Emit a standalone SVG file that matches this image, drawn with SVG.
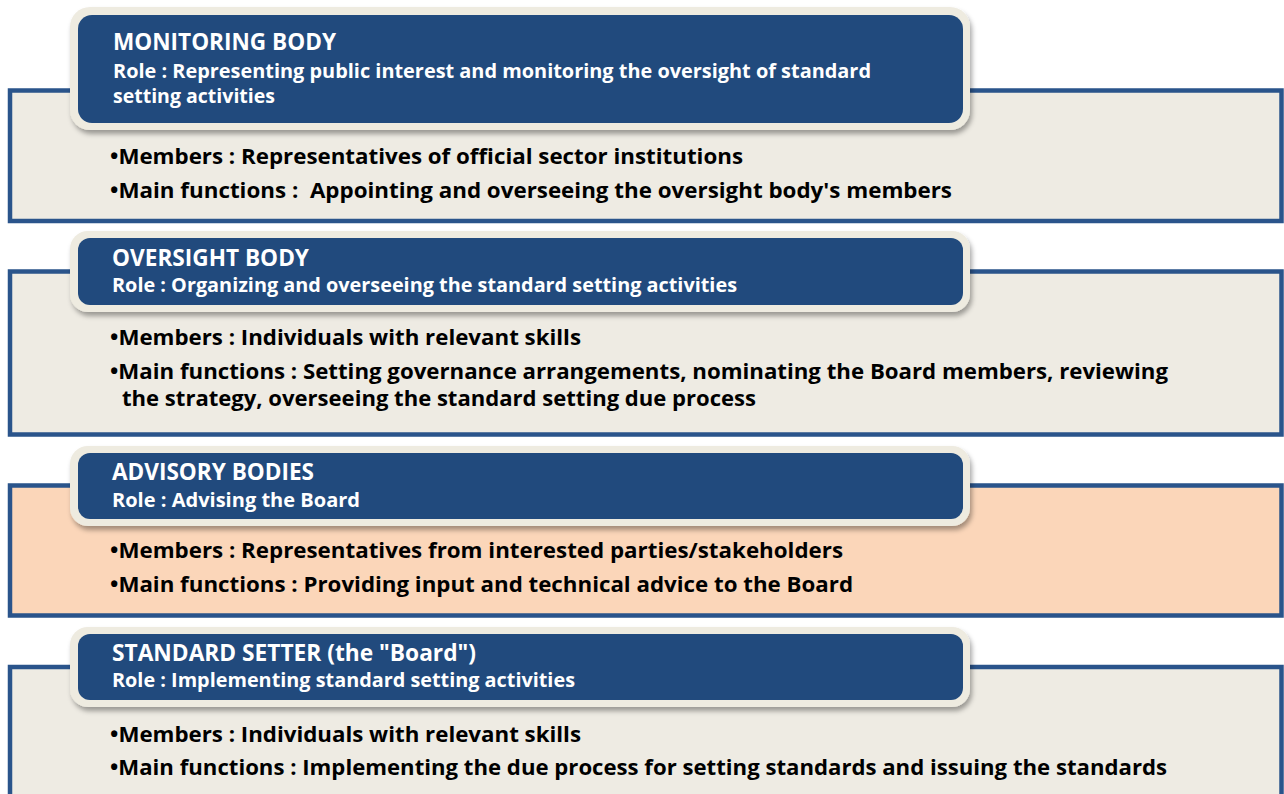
<svg xmlns="http://www.w3.org/2000/svg" width="1284" height="794" viewBox="0 0 1284 794">
<defs>
<filter id="sh" x="-5%" y="-20%" width="110%" height="150%">
<feDropShadow dx="2" dy="4" stdDeviation="2.5" flood-color="#000" flood-opacity="0.35"/>
</filter>
</defs>
<style>
.panel{stroke:#2A548B;stroke-width:4.5;fill:#EEEBE3}
.peach{fill:#FBD6B9}
.frame{fill:#EEEBE0;filter:url(#sh)}
.hdr{fill:#214A7D}
.t{font-family:"Open Sans","Liberation Sans",sans-serif;font-weight:bold;fill:#fff}
.title{font-size:23px}
.role{font-size:20px}
.b{font-family:"Open Sans","Liberation Sans",sans-serif;font-weight:bold;font-size:22px;fill:#000}
</style>
<rect width="1284" height="794" fill="#fff"/>

<g id="monitoring-body">
<rect class="panel" x="10" y="90.5" width="1271.5" height="130.5"/>
<rect class="frame" x="70" y="7" width="900" height="123" rx="20"/>
<rect class="hdr" x="78" y="15" width="885" height="108" rx="14"/>
<text class="t title" x="113" y="50" textLength="223" lengthAdjust="spacingAndGlyphs">MONITORING BODY</text>
<text class="t role" x="113" y="78" textLength="758" lengthAdjust="spacingAndGlyphs">Role : Representing public interest and monitoring the oversight of standard</text>
<text class="t role" x="113" y="103" textLength="162" lengthAdjust="spacingAndGlyphs">setting activities</text>
<text class="b" x="110" y="164" textLength="633" lengthAdjust="spacingAndGlyphs">•Members : Representatives of official sector institutions</text>
<text class="b" x="110" y="197.5" textLength="842" lengthAdjust="spacingAndGlyphs" xml:space="preserve">•Main functions :  Appointing and overseeing the oversight body's members</text>
</g>

<g id="oversight-body">
<rect class="panel" x="10" y="271.5" width="1271.5" height="163"/>
<rect class="frame" x="70" y="231" width="900" height="81" rx="18"/>
<rect class="hdr" x="78" y="238" width="885" height="67" rx="12"/>
<text class="t title" x="112" y="266" textLength="197" lengthAdjust="spacingAndGlyphs">OVERSIGHT BODY</text>
<text class="t role" x="112" y="292" textLength="625" lengthAdjust="spacingAndGlyphs">Role : Organizing and overseeing the standard setting activities</text>
<text class="b" x="110" y="345" textLength="471" lengthAdjust="spacingAndGlyphs">•Members : Individuals with relevant skills</text>
<text class="b" x="110" y="379" textLength="1058" lengthAdjust="spacingAndGlyphs">•Main functions : Setting governance arrangements, nominating the Board members, reviewing</text>
<text class="b" x="122" y="406" textLength="634" lengthAdjust="spacingAndGlyphs">the strategy, overseeing the standard setting due process</text>
</g>

<g id="advisory-bodies">
<rect class="panel peach" x="10" y="485.5" width="1271.5" height="130"/>
<rect class="frame" x="70" y="446" width="900" height="80" rx="18"/>
<rect class="hdr" x="78" y="453" width="885" height="66" rx="12"/>
<text class="t title" x="112" y="480" textLength="202" lengthAdjust="spacingAndGlyphs">ADVISORY BODIES</text>
<text class="t role" x="112" y="507" textLength="248" lengthAdjust="spacingAndGlyphs">Role : Advising the Board</text>
<text class="b" x="110" y="558" textLength="733" lengthAdjust="spacingAndGlyphs">•Members : Representatives from interested parties/stakeholders</text>
<text class="b" x="110" y="592" textLength="743" lengthAdjust="spacingAndGlyphs">•Main functions : Providing input and technical advice to the Board</text>
</g>

<g id="standard-setter">
<rect class="panel" x="10" y="667" width="1271.5" height="140"/>
<rect class="frame" x="70" y="627" width="900" height="80" rx="18"/>
<rect class="hdr" x="78" y="634" width="885" height="66" rx="12"/>
<text class="t title" x="112" y="661" textLength="364" lengthAdjust="spacingAndGlyphs">STANDARD SETTER (the "Board")</text>
<text class="t role" x="112" y="687" textLength="463" lengthAdjust="spacingAndGlyphs">Role : Implementing standard setting activities</text>
<text class="b" x="110" y="742" textLength="471" lengthAdjust="spacingAndGlyphs">•Members : Individuals with relevant skills</text>
<text class="b" x="110" y="775" textLength="1057" lengthAdjust="spacingAndGlyphs">•Main functions : Implementing the due process for setting standards and issuing the standards</text>
</g>

<g id="connectors"></g>
</svg>
